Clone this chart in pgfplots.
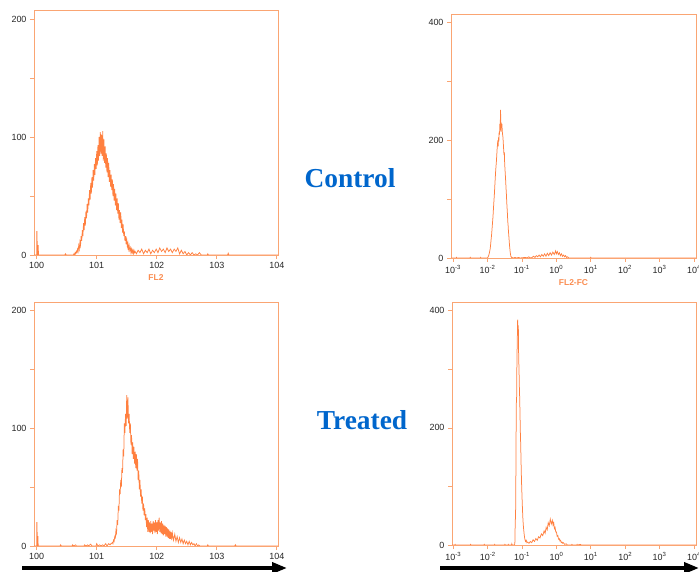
\documentclass[border=0pt]{standalone}
\usepackage{fontspec}
\setmainfont{Liberation Serif}
\setsansfont{Liberation Sans}
\usepackage{pgfplots}
\pgfplotsset{compat=1.18}
\usetikzlibrary{arrows.meta}
\definecolor{hist}{RGB}{255,128,64}
\definecolor{frame}{RGB}{250,165,115}
\definecolor{lbl}{RGB}{0,102,204}
\definecolor{flab}{RGB}{250,140,80}
\pgfplotsset{facs/.style={
  scale only axis, anchor=south west,
  axis line style={frame, line width=0.7bp},
  tick align=outside, tick pos=left,
  major tick length=4bp, minor tick length=4bp,
  tick style={frame, line width=0.7bp},
  ymin=0,
  tick label style={font=\sffamily\fontsize{9}{10}\selectfont, text=black!85},
  xlabel style={font=\sffamily\bfseries\fontsize{8.5}{10}\selectfont, text=flab, yshift=1bp},
}}
\pgfplotsset{linfl/.style={facs, xmin=-0.045, xmax=4.02, xtick={0,1,2,3,4},
  xticklabels={100,101,102,103,104}, ytick={0,100,200}, yticklabels={0,100,200}, minor ytick={50,150}}}
\pgfplotsset{logfl/.style={facs, xmin=-3.06, xmax=4.06, xtick={-3,-2,-1,0,1,2,3,4},
  xticklabels={10\textsuperscript{-3},10\textsuperscript{-2},10\textsuperscript{-1},10\textsuperscript{0},10\textsuperscript{1},10\textsuperscript{2},10\textsuperscript{3},10\textsuperscript{4}},
  ymax=415, ytick={0,200,400}, yticklabels={0,200,400}, minor ytick={100,300}}}
\tikzset{hline/.style={hist, line width=0.75bp, mark=none, sharp plot}}
\begin{document}
\begin{tikzpicture}
\useasboundingbox (0,0) rectangle (699bp,572bp);
% ---------- Control FL2 ----------
\begin{axis}[linfl, at={(34bp,317bp)}, width=244bp, height=245bp, ymax=207.6, xlabel={FL2}]
\addplot[hline] coordinates {
(-0.05,0)(0,0)(0,20)(0.005,20)(0.01,0)(0.02,0)(0.02,8)(0.025,8)(0.03,0)(0.47,0)(0.48,1)(0.49,0)
(0.60,0)(0.61,0)(0.62,1)(0.63,0)(0.64,2)(0.65,1)(0.66,3)(0.67,2)(0.68,5)(0.69,3)
(0.70,8)(0.71,5)(0.72,11)(0.73,8)(0.74,16)(0.75,12)(0.76,21)(0.77,16)(0.78,27)(0.79,21)
(0.80,32)(0.81,25)(0.82,37)(0.83,31)(0.84,43)(0.85,36)(0.86,48)(0.87,42)(0.88,55)(0.89,47)
(0.90,61)(0.91,52)(0.92,66)(0.93,57)(0.94,72)(0.95,63)(0.96,77)(0.97,68)(0.98,82)(0.99,73)
(1.00,88)(1.01,76)(1.02,93)(1.03,80)(1.04,100)(1.05,84)(1.06,104)(1.07,86)(1.08,102)(1.09,84)
(1.10,105)(1.11,80)(1.12,98)(1.13,78)(1.14,92)(1.15,74)(1.16,86)(1.17,70)(1.18,82)(1.19,66)
(1.20,78)(1.21,62)(1.22,72)(1.23,58)(1.24,68)(1.25,55)(1.26,64)(1.27,50)(1.28,60)(1.29,46)
(1.30,56)(1.31,42)(1.32,52)(1.33,38)(1.34,48)(1.35,35)(1.36,44)(1.37,30)(1.38,38)(1.39,27)
(1.40,36)(1.41,23)(1.42,30)(1.43,19)(1.44,26)(1.45,16)(1.46,20)(1.47,12)(1.48,16)(1.49,9)
(1.50,13)(1.51,7)(1.52,10)(1.53,5)(1.54,8)(1.55,4)(1.56,6)(1.57,2)(1.58,5)(1.59,2)
(1.60,4)(1.61,1)(1.62,4)(1.63,2)(1.64,3)
(1.66,1)(1.69,4)(1.72,2)(1.75,5)(1.78,1)(1.81,4)(1.84,2)(1.87,5)(1.90,1)(1.93,4)(1.96,2)(1.99,5)
(2.02,2)(2.05,6)(2.08,3)(2.11,5)(2.14,2)(2.17,6)(2.20,3)(2.23,5)(2.26,2)(2.29,5)(2.32,3)(2.35,6)
(2.38,1)(2.41,4)(2.44,1)(2.47,3)(2.50,0)(2.53,2)(2.56,0)(2.59,2)(2.62,0)(2.65,1)(2.68,0)(2.71,2)(2.74,0)
(2.84,0)(2.85,1)(2.86,0)(3.18,0)(3.19,1.5)(3.20,0)(4.1,0)
};
\end{axis}
% ---------- Control FL2-FC ----------
\begin{axis}[logfl, at={(451bp,314bp)}, width=245bp, height=244bp, xlabel={FL2-FC}]
\addplot[hline] coordinates {
(-3.1,0)(-2.91,0)(-2.90,1)(-2.89,0)(-2.51,0)(-2.50,1)(-2.49,0)(-2.21,0)(-2.20,1)(-2.19,0)
(-2.00,0)(-1.98,2)(-1.96,5)(-1.94,10)(-1.92,16)(-1.90,28)(-1.88,40)(-1.86,55)(-1.84,70)(-1.82,90)
(-1.80,108)(-1.78,130)(-1.76,150)(-1.74,165)(-1.72,185)(-1.70,200)(-1.69,190)(-1.68,205)(-1.67,198)
(-1.66,215)(-1.65,210)(-1.64,228)(-1.63,220)(-1.62,252)(-1.61,215)(-1.60,230)(-1.59,222)(-1.58,228)
(-1.57,215)(-1.56,210)(-1.55,205)(-1.54,195)(-1.53,185)(-1.52,175)(-1.51,180)(-1.50,160)(-1.49,150)
(-1.48,140)(-1.47,130)(-1.46,118)(-1.45,108)(-1.44,95)(-1.43,85)(-1.42,75)(-1.41,62)(-1.40,55)
(-1.39,45)(-1.38,38)(-1.37,30)(-1.36,22)(-1.35,16)(-1.34,10)(-1.33,6)(-1.32,3)(-1.30,1)(-1.25,0)
(-1.20,1)(-1.15,0)(-1.10,1)(-1.05,0)(-0.90,1)(-0.85,0)(-0.80,2)(-0.75,0)
(-0.70,1)(-0.66,3)(-0.62,1)(-0.58,4)(-0.54,2)(-0.50,5)(-0.46,2)(-0.42,6)(-0.38,3)(-0.34,7)
(-0.30,3)(-0.26,8)(-0.22,4)(-0.18,9)(-0.14,5)(-0.10,10)(-0.06,6)(-0.02,12)(0.00,7)(0.03,11)
(0.06,6)(0.09,9)(0.12,4)(0.15,7)(0.18,3)(0.21,5)(0.24,2)(0.27,4)(0.30,1)(0.33,2)(0.36,0)
(0.99,0)(1.00,1)(1.01,0)(4.1,0)
};
\end{axis}
% ---------- Treated FL2 ----------
\begin{axis}[linfl, at={(34bp,26bp)}, width=244bp, height=244bp, ymax=207]
\addplot[hline] coordinates {
(-0.05,0)(0,0)(0,20)(0.005,20)(0.01,0)(0.015,0)(0.015,8)(0.02,8)(0.025,0)
(0.39,0)(0.40,1)(0.41,0)(0.59,0)(0.60,1)(0.61,0)(0.65,1)(0.66,0)(0.79,0)(0.80,1)(0.82,0)(0.85,1)(0.86,0)
(0.90,1.5)(0.92,0)(0.99,0)(1.00,2)(1.02,0)(1.05,1)(1.07,0)(1.10,1)(1.12,0)(1.15,2)(1.17,0)(1.20,2)
(1.22,1)(1.24,2)(1.26,3)(1.27,2)(1.28,5)(1.29,4)
(1.30,8)(1.31,7)(1.32,13)(1.33,11)(1.34,22)(1.35,18)(1.36,34)(1.37,30)(1.38,48)(1.39,44)
(1.40,56)(1.41,50)(1.42,66)(1.43,62)(1.44,82)(1.45,76)(1.46,104)(1.47,96)(1.48,112)(1.49,102)
(1.50,128)(1.51,108)(1.52,126)(1.53,104)(1.54,112)(1.55,96)(1.56,104)(1.57,86)(1.58,94)(1.59,78)
(1.60,88)(1.61,74)(1.62,84)(1.63,70)(1.64,80)(1.65,66)(1.66,78)(1.67,64)(1.68,74)(1.69,56)
(1.70,64)(1.71,48)(1.72,56)(1.73,42)(1.74,48)(1.75,36)(1.76,42)(1.77,30)(1.78,36)(1.79,26)
(1.80,32)(1.81,22)(1.82,27)(1.83,16)(1.84,24)(1.85,12)(1.86,22)(1.87,12)(1.88,20)(1.89,11)
(1.90,21)(1.91,12)(1.92,19)(1.93,10)(1.94,21)(1.95,13)(1.96,20)(1.97,11)(1.98,22)(1.99,12)
(2.00,20)(2.01,10)(2.02,22)(2.03,13)(2.04,24)(2.05,12)(2.06,20)(2.07,11)(2.08,21)(2.09,10)
(2.10,19)(2.11,9)(2.12,18)(2.13,10)(2.14,17)(2.15,8)(2.16,16)(2.17,8)(2.18,15)(2.19,7)
(2.20,14)(2.21,6)(2.22,13)(2.23,6)(2.24,12)(2.25,5)(2.26,11)(2.28,5)(2.30,10)(2.32,4)
(2.34,8)(2.36,3)(2.38,7)(2.40,3)(2.42,6)(2.44,2)(2.46,5)(2.48,2)(2.50,4)(2.52,1)
(2.54,4)(2.56,1)(2.58,3)(2.60,1)(2.62,2)(2.64,0)(2.66,2)(2.68,0)(2.70,1)(2.72,0)
(2.84,0)(2.85,1)(2.86,0)(3.30,0)(3.31,1)(3.32,0)(4.1,0)
};
\end{axis}
% ---------- Treated FL2-FC ----------
\begin{axis}[logfl, at={(452bp,27bp)}, width=244bp, height=243bp, xmin=-3.04]
\addplot[hline] coordinates {
(-3.1,0)(-2.96,0)(-2.95,1)(-2.94,0)(-2.51,0)(-2.50,1)(-2.49,0)(-2.11,0)(-2.10,1)(-2.09,0)
(-1.81,0)(-1.80,1)(-1.79,0)(-1.51,0)(-1.50,1)(-1.49,0)(-1.41,0)(-1.40,1)(-1.39,0)(-1.31,0)(-1.30,2)(-1.29,0)
(-1.22,0)(-1.21,5)(-1.20,40)(-1.19,50)(-1.18,130)(-1.17,240)(-1.16,250)(-1.15,320)(-1.14,350)
(-1.13,385)(-1.12,360)(-1.11,375)(-1.10,320)(-1.09,300)(-1.08,270)(-1.07,250)(-1.06,220)
(-1.05,190)(-1.04,170)(-1.03,140)(-1.02,115)(-1.01,95)(-1.00,78)(-0.99,62)(-0.98,48)(-0.97,38)
(-0.96,30)(-0.95,24)(-0.94,18)(-0.93,14)(-0.92,10)(-0.90,6)(-0.88,8)(-0.86,4)
(-0.84,5)(-0.80,3)(-0.76,6)(-0.72,4)(-0.68,9)(-0.64,6)(-0.60,11)(-0.56,8)(-0.52,14)(-0.48,12)
(-0.44,19)(-0.40,16)(-0.36,24)(-0.33,20)(-0.30,30)(-0.27,26)(-0.24,38)(-0.21,33)(-0.18,44)
(-0.15,36)(-0.12,42)(-0.10,34)(-0.08,38)(-0.06,28)(-0.04,30)(-0.02,22)(0.00,22)(0.02,15)
(0.04,16)(0.06,10)(0.08,11)(0.10,7)(0.12,8)(0.14,4)(0.16,5)(0.18,3)(0.20,4)(0.24,1)(0.28,2)(0.32,0)
(0.44,0)(0.45,1)(0.46,0)(0.59,0)(0.60,1)(0.61,0)(0.70,1)(0.71,0)(4.1,0)
};
\end{axis}
% ---------- labels and arrows ----------
\node[font=\bfseries\fontsize{27.5}{30}\selectfont, text=lbl] at (350bp,394bp) {Control};
\node[font=\bfseries\fontsize{27.5}{30}\selectfont, text=lbl] at (362bp,152bp) {Treated};
\draw[line width=3.5bp, -{Triangle[length=15bp,width=11bp]}] (22bp,4bp) -- (287bp,4bp);
\draw[line width=3.5bp, -{Triangle[length=15bp,width=11bp]}] (440bp,4bp) -- (699bp,4bp);
\end{tikzpicture}
\end{document}
